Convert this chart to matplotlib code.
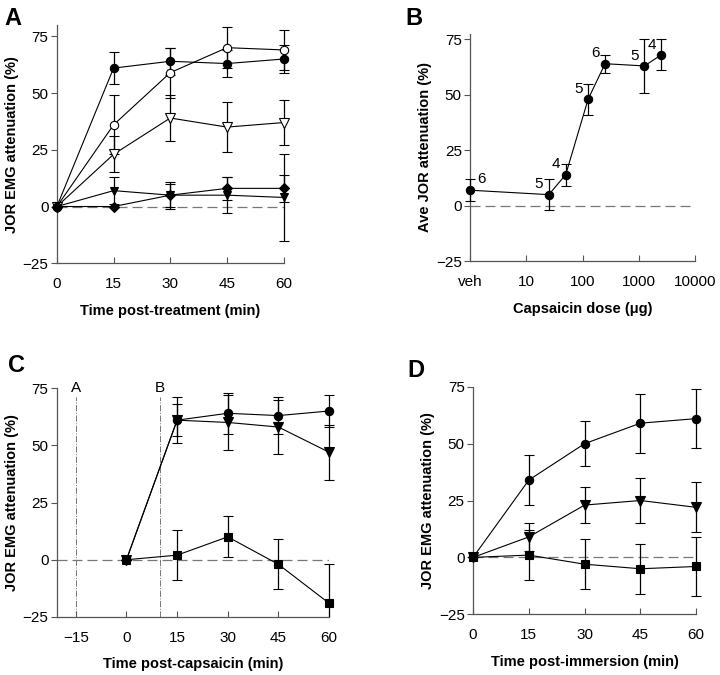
import matplotlib
matplotlib.use("Agg")
import matplotlib.pyplot as plt
from matplotlib.transforms import Bbox, TransformedBbox
import numpy as np

plt.rcParams['font.family'] = ['Liberation Sans', 'DejaVu Sans']

# ---- panel A data ----
time_a = [0, 15, 30, 45, 60]
a_filled_circle = [0, 61, 64, 63, 65]
a_filled_circle_err = [0, 7, 6, 6, 6]
a_open_circle = [0, 36, 59, 70, 69]
a_open_circle_err = [0, 13, 11, 9, 9]
a_open_tri = [0, 23, 39, 35, 37]
a_open_tri_err = [0, 8, 10, 11, 10]
a_filled_tri = [0, 7, 5, 5, 4]
a_filled_tri_err = [0, 6, 6, 8, 19]
a_diamond = [0, 0, 5, 8, 8]
a_diamond_err = [0, 0, 5, 5, 6]

# ---- panel B data ----
dose_b = [1, 25, 50, 125, 250, 1250, 2500]
b_mean = [7, 5, 14, 48, 64, 63, 68]
b_err = [5, 7, 5, 7, 4, 12, 7]
b_n = ["6", "5", "4", "5", "6", "5", "4"]

# ---- panel C data ----
time_c = [0, 15, 30, 45, 60]
c_circle = [0, 61, 64, 63, 65]
c_circle_err = [0, 10, 9, 8, 7]
c_tri = [0, 61, 60, 58, 47]
c_tri_err = [0, 7, 12, 12, 12]
c_square = [0, 2, 10, -2, -19]
c_square_err = [0, 11, 9, 11, 17]

# ---- panel D data ----
time_d = [0, 15, 30, 45, 60]
d_circle = [0, 34, 50, 59, 61]
d_circle_err = [0, 11, 10, 13, 13]
d_tri = [0, 9, 23, 25, 22]
d_tri_err = [0, 6, 8, 10, 11]
d_square = [0, 1, -3, -5, -4]
d_square_err = [0, 11, 11, 11, 13]


def series(ax, x, y, err, marker, face='black', ms=6):
    cont = ax.errorbar(x, y, yerr=err, color='black', lw=0.8, elinewidth=0.9,
                       capsize=3.5, capthick=0.9, marker=marker, ms=ms,
                       mfc=face, mec='black', mew=0.8, clip_on=False, zorder=3)
    # error bars are cut at the bottom spine only (wide box left/right)
    box = TransformedBbox(Bbox([[-0.1, 0.0], [1.1, 1.2]]), ax.transAxes)
    for art in list(cont[1]) + list(cont[2]):
        art.set_clip_on(True)
        art.set_clip_box(box)
    return cont


def style(ax, xlabel, ylabel):
    for s in ('top', 'right'):
        ax.spines[s].set_visible(False)
    for s in ('left', 'bottom'):
        ax.spines[s].set_color('#555555')
        ax.spines[s].set_linewidth(0.9)
    ax.tick_params(axis='y', direction='out', length=4, width=0.8,
                   colors='#555555', labelcolor='black', labelsize=11, pad=2)
    ax.tick_params(axis='x', direction='in', length=4, width=0.8,
                   colors='#555555', labelcolor='black', labelsize=11, pad=10)
    ax.set_yticks([-25, 0, 25, 50, 75])
    ax.set_xlabel(xlabel, fontsize=10.5, fontweight='bold', labelpad=9)
    ax.set_ylabel(ylabel, fontsize=10.5, fontweight='bold', labelpad=3)


fig = plt.figure(figsize=(7.2, 6.75), dpi=100)
axA = fig.add_axes([0.079, 0.610, 0.315, 0.353])
axB = fig.add_axes([0.653, 0.613, 0.3125, 0.337])
axC = fig.add_axes([0.079, 0.086, 0.378, 0.339])
axD = fig.add_axes([0.657, 0.090, 0.310, 0.337])

# A
axA.plot([0, 60], [0, 0], ls=(0, (8, 4)), color='#777777', lw=0.9, zorder=1)
series(axA, time_a, a_diamond, a_diamond_err, 'D', ms=5.5)
series(axA, time_a, a_filled_tri, a_filled_tri_err, 'v')
series(axA, time_a, a_open_tri, a_open_tri_err, 'v', face='white', ms=7)
series(axA, time_a, a_open_circle, a_open_circle_err, 'o', face='white')
series(axA, time_a, a_filled_circle, a_filled_circle_err, 'o')
axA.set_xlim(0, 60)
axA.set_ylim(-25, 80)
axA.set_xticks([0, 15, 30, 45, 60])
style(axA, 'Time post-treatment (min)', 'JOR EMG attenuation (%)')

# B
axB.plot([1, 10000], [0, 0], ls=(0, (8, 4)), color='#777777', lw=0.9, zorder=1)
series(axB, dose_b, b_mean, b_err, 'o')
axB.set_xscale('log')
axB.set_xlim(1, 10000)
axB.set_ylim(-25, 77.5)
axB.set_xticks([1, 10, 100, 1000, 10000])
axB.set_xticklabels(['veh', '10', '100', '1000', '10000'])
axB.minorticks_off()
for i, (d, m, e, n) in enumerate(zip(dose_b, b_mean, b_err, b_n)):
    if i == 0:
        axB.text(d * 1.35, m + 2, n, fontsize=11, ha='left', va='bottom')
    else:
        axB.text(d / 1.25, m + 1.5, n, fontsize=11, ha='right', va='bottom')
style(axB, 'Capsaicin dose (\u03bcg)', 'Ave JOR attenuation (%)')

# C
axC.plot([-20.6, 60], [0, 0], ls=(0, (8, 4)), color='#777777', lw=0.9, zorder=1)
for xv, lab in ((-15, 'A'), (10, 'B')):
    axC.plot([xv, xv], [-25, 71], ls='-.', color='#777777', lw=0.7, zorder=1)
    axC.text(xv, 72, lab, ha='center', va='bottom', fontsize=11)
series(axC, time_c, c_square, c_square_err, 's', ms=5.5)
series(axC, time_c, c_tri, c_tri_err, 'v', ms=6.5)
series(axC, time_c, c_circle, c_circle_err, 'o')
axC.set_xlim(-20.6, 60)
axC.set_ylim(-25, 75)
axC.set_xticks([-15, 0, 15, 30, 45, 60])
style(axC, 'Time post-capsaicin (min)', 'JOR EMG attenuation (%)')

# D
axD.plot([0, 60], [0, 0], ls=(0, (8, 4)), color='#777777', lw=0.9, zorder=1)
series(axD, time_d, d_square, d_square_err, 's', ms=5.5)
series(axD, time_d, d_tri, d_tri_err, 'v', ms=6.5)
series(axD, time_d, d_circle, d_circle_err, 'o')
axD.set_xlim(0, 60)
axD.set_ylim(-25, 75)
axD.set_xticks([0, 15, 30, 45, 60])
style(axD, 'Time post-immersion (min)', 'JOR EMG attenuation (%)')

# panel letters, positioned by their top edge (pixels from top / 675)
for lab, x, ytop in (('A', 4, 7), ('B', 405, 7), ('C', 8, 354), ('D', 407, 359)):
    fig.text(x / 720, 1 - ytop / 675, lab, fontsize=17, fontweight='bold',
             ha='left', va='top')

fig.savefig('out.png', dpi=100)
